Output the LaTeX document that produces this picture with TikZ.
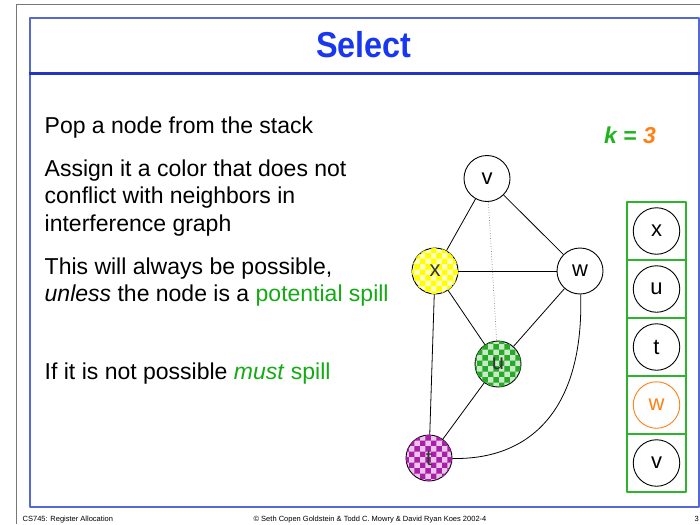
\documentclass[tikz,border=0pt]{standalone}
\usepackage{fontspec}
\setmainfont{Liberation Sans}
\usetikzlibrary{patterns}
\definecolor{framegray}{RGB}{120,120,120}
\definecolor{frameblue}{RGB}{85,105,212}
\definecolor{ruleblue}{RGB}{35,55,190}
\definecolor{titleblue}{RGB}{25,55,240}
\definecolor{spillgreen}{RGB}{20,170,20}
\definecolor{kgreen}{RGB}{30,180,30}
\definecolor{korange}{RGB}{255,128,20}
\definecolor{stackgreen}{RGB}{45,180,45}
\definecolor{colyellow}{RGB}{255,255,0}
\definecolor{colgreen}{RGB}{40,170,40}
\definecolor{colpurple}{RGB}{170,30,170}

\begin{document}
\begin{tikzpicture}[x=1pt,y=-1pt,line join=round,
  body/.style={anchor=base west,inner sep=0pt,font=\fontsize{23}{27}\selectfont},
  foot/.style={anchor=base,inner sep=0pt,font=\fontsize{7.5}{9}\selectfont},
  gnode/.style={circle,draw=black,line width=0.9pt,minimum size=46pt,inner sep=0pt,
    font=\fontsize{22}{22}\selectfont,fill=white},
  colnode/.style={gnode,fill=#1!25,postaction={pattern=checkerboard,pattern color=#1},
    text=black!80},
  edge/.style={draw=black,line width=0.8pt},
  cell/.style={rectangle,draw=stackgreen,line width=1.3pt,minimum width=59pt,
    minimum height=58pt,inner sep=0pt},
  snode/.style={circle,draw=black,line width=0.9pt,minimum size=46.5pt,inner sep=0pt,
    font=\fontsize{22}{22}\selectfont}
]
\useasboundingbox (0,0) rectangle (700,524);

% slide frames
\draw[framegray,line width=1.2pt] (16.7,524) -- (16.7,4.8) -- (700,4.8);
\draw[frameblue,line width=2pt] (29.5,17.8) rectangle (699.2,507);
\draw[ruleblue,line width=2.2pt] (28.5,73.5) -- (700,73.5);

% title
\node[anchor=base,inner sep=0pt,text=titleblue,font=\fontsize{36}{40}\bfseries] (title)
  at (364,58) {\scalebox{0.9}[1]{Select}};

% body text
\node[body] (l1) at (44.5,133) {Pop a node from the stack};
\node[body] (l2) at (44.5,176) {Assign it a color that does not};
\node[body] (l3) at (44.5,203.5) {conflict with neighbors in};
\node[body] (l4) at (44.5,231) {interference graph};
\node[body] (l5) at (44.5,274) {This will always be possible,};
\node[body] (l6) at (44.5,301.5) {\textit{unless} the node is a \textcolor{spillgreen}{potential spill}};
\node[body] (l7) at (44.5,379) {If it is not possible \textcolor{spillgreen}{\textit{must} spill}};

% k = 3
\node[anchor=base east,inner sep=0pt,font=\fontsize{23}{27}\bfseries\itshape] (k)
  at (656,143) {\textcolor{kgreen}{k =} \textcolor{korange}{3}};

% interference graph
\node[gnode] (v) at (487,178.5) {v};
\node[colnode=colyellow] (x) at (435,271) {x};
\node[gnode] (w) at (580,271) {w};
\node[colnode=colgreen] (u) at (498,364) {u};
\node[colnode=colpurple] (t) at (429,458) {t};

\path[edge] (v) -- (x);
\path[edge] (v) -- (w);
\path[edge] (x) -- (w);
\path[edge] (x) -- (u);
\path[edge] (w) -- (u);
\path[edge] (x) -- (t);
\path[edge] (u) -- (t);
\path[edge] (w) .. controls (584,410) and (530,460) .. (t);
\draw[black!70,line width=0.6pt,dotted] (v) -- (u);

% stack
\node[cell] (c1) at (656.5,231) {};
\node[cell] (c2) at (656.5,289) {};
\node[cell] (c3) at (656.5,347) {};
\node[cell] (c4) at (656.5,405) {};
\node[cell] (c5) at (656.5,463) {};
\node[snode] (s1) at (c1) {x};
\node[snode] (s2) at (c2) {u};
\node[snode] (s3) at (c3) {t};
\node[snode,draw=korange,text=korange] (s4) at (c4) {w};
\node[snode] (s5) at (c5) {v};

% footer
\node[foot,anchor=base west] (f1) at (22.5,521.5) {CS745: Register Allocation};
\node[foot] (f2) at (370,521.5) {\textcopyright{} Seth Copen Goldstein \& Todd C. Mowry \& David Ryan Koes 2002-4};
\node[foot,anchor=base west] (f3) at (694.5,521.5) {3};
\end{tikzpicture}
\end{document}
